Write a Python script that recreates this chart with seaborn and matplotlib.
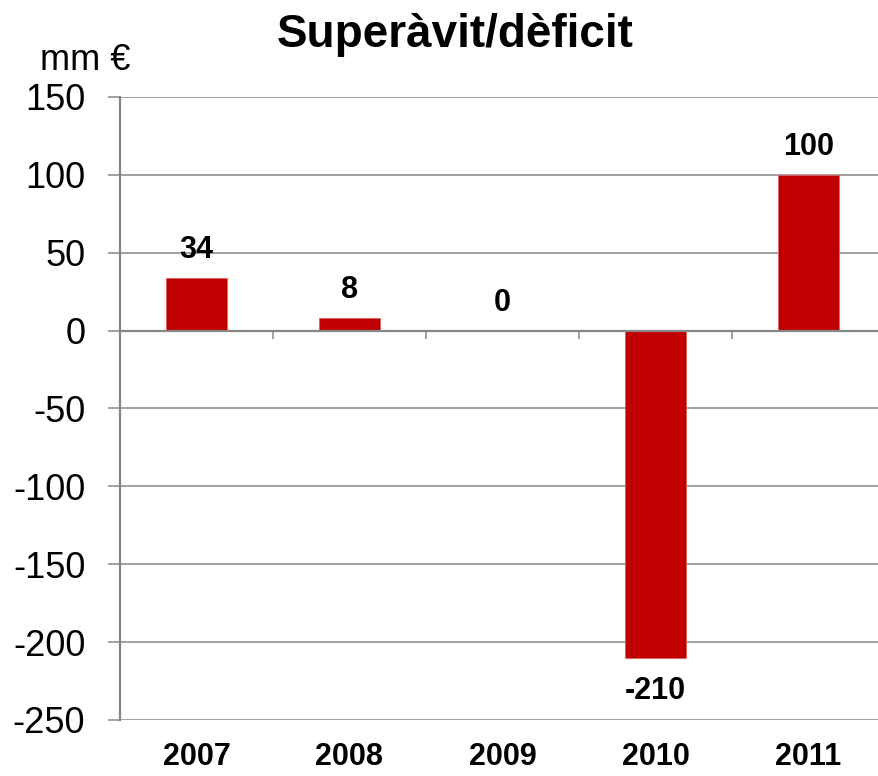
import pandas as pd
import numpy as np
import matplotlib
matplotlib.use("Agg")
import matplotlib.pyplot as plt
import matplotlib.transforms as mtransforms
import seaborn as sns

# Data
years = ['2007', '2008', '2009', '2010', '2011']
balance = [34, 8, 0, -210, 100]
value_labels = ['34', '8', '0', '-210', '100']
y_ticks = [150, 100, 50, 0, -50, -100, -150, -200, -250]

sns.set_style('white')
plt.rcParams['font.family'] = ['Liberation Sans', 'DejaVu Sans']
plt.rcParams['text.color'] = 'black'
plt.rcParams['xtick.color'] = 'black'
plt.rcParams['ytick.color'] = 'black'

df = pd.DataFrame({'year': years, 'balance': balance})

bar_color = '#C00000'
axis_color = '#868686'

fig = plt.figure(figsize=(8.79, 7.76), dpi=100)
ax = fig.add_axes([0.1365, 0.0722, 0.8703, 0.8028])

sns.barplot(data=df, x='year', y='balance', color=bar_color, saturation=1,
            width=0.4, edgecolor='#E06060', linewidth=0.6, ax=ax, zorder=3)

ax.set_xlim(-0.5, 4.5)
ax.set_ylim(-250, 150)
ax.set_yticks(y_ticks)
ax.set_yticklabels([str(t) for t in y_ticks], fontsize=26)
ax.yaxis.grid(True, color=axis_color, linewidth=1.1, zorder=0)
ax.set_axisbelow(True)

# x-axis sits on zero with small ticks between categories
ax.spines['bottom'].set_position(('data', 0))
ax.set_xticks([0.5, 1.5, 2.5, 3.5])
ax.set_xticklabels([])
ax.tick_params(axis='x', bottom=True, direction='out', length=6, width=1.1,
               color=axis_color)
ax.tick_params(axis='y', left=True, direction='out', length=9, width=1.1,
               color=axis_color, labelcolor='black', pad=16)
ax.set_xlabel('')
ax.set_ylabel('')

for side in ['top', 'right']:
    ax.spines[side].set_visible(False)
for side in ['left', 'bottom']:
    ax.spines[side].set_color(axis_color)
    ax.spines[side].set_linewidth(1.6)
ax.spines['bottom'].set_zorder(4)

# category labels at the bottom of the plot
trans = mtransforms.blended_transform_factory(ax.transData, ax.transAxes)
for i, yr in enumerate(years):
    ax.text(i, -0.06, yr, transform=trans, ha='center', va='center',
            fontsize=22, fontweight='bold', color='black')

# value labels
for i, (v, lab) in enumerate(zip(balance, value_labels)):
    off = 20 if v >= 0 else -24
    ax.annotate(lab, (i, v), xytext=(0, off), textcoords='offset points',
                ha='center', va='center', fontsize=22, fontweight='bold',
                color='black')

fig.text(0.518, 1 - 35 / 776, 'Superàvit/dèficit', ha='center', va='center',
         fontsize=33, fontweight='bold', color='black')
fig.text(85 / 879, 1 - 60 / 776, 'mm €', ha='center', va='center', fontsize=26,
         color='black')

fig.savefig('out.png', dpi=100)
